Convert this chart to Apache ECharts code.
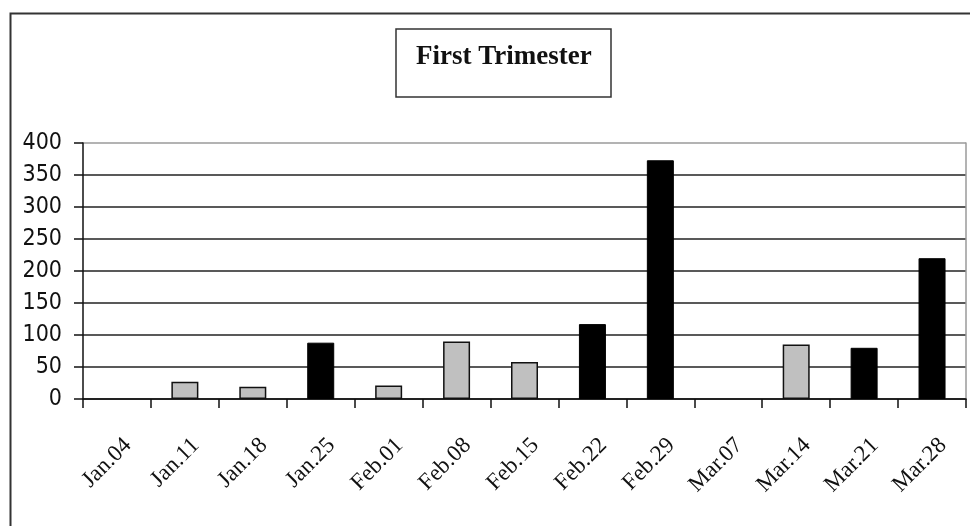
<!DOCTYPE html>
<html>
<head>
<meta charset="utf-8">
<script src="https://cdn.jsdelivr.net/npm/echarts@6/dist/echarts.min.js"></script>
<style>
  html, body { margin: 0; padding: 0; background: #fff; }
  #chart { width: 970px; height: 526px; }
</style>
</head>
<body>
<div id="chart"></div>
<script>
const weeks = ['Jan.04', 'Jan.11', 'Jan.18', 'Jan.25', 'Feb.01', 'Feb.08', 'Feb.15',
  'Feb.22', 'Feb.29', 'Mar.07', 'Mar.14', 'Mar.21', 'Mar.28']
// light bars and dark bars, '-' where a week has no bar of that kind
const greyValues = ['-', 27, 19, '-', 21, 90, 58, '-', '-', '-', 85, '-', '-']
const blackValues = ['-', '-', '-', 88, '-', '-', '-', 117, 373, '-', '-', 80, 220]
const yTicks = [0, 50, 100, 150, 200, 250, 300, 350, 400]

const chart = echarts.init(document.getElementById('chart'))

const option = {
  animation: false,
  backgroundColor: '#fff',
  title: {
    text: 'First Trimester',
    left: 396,
    top: 29,
    padding: [15, 20, 26, 20],
    borderColor: '#333',
    borderWidth: 1.5,
    textStyle: {
      fontFamily: '"Liberation Serif", "Times New Roman", serif',
      fontSize: 27,
      fontWeight: 'bold',
      color: '#111'
    }
  },
  graphic: [
    {
      type: 'rect',
      left: 8,
      top: 11,
      shape: { width: 1000, height: 600 },
      style: { fill: 'none', stroke: '#333', lineWidth: 2 },
      silent: true
    }
  ],
  grid: {
    left: 83,
    right: 4,
    top: 143,
    bottom: 127
  },
  xAxis: {
    type: 'category',
    data: weeks,
    axisLine: { lineStyle: { color: '#111', width: 1.5 } },
    axisTick: { show: true, length: 9, lineStyle: { color: '#111', width: 1.5 } },
    axisLabel: {
      rotate: 45,
      margin: 32,
      interval: 0,
      align: 'right',
      verticalAlign: 'top',
      padding: [4, 0, 0, 0],
      color: '#111',
      fontFamily: '"Liberation Serif", "Times New Roman", serif',
      fontSize: 23
    }
  },
  yAxis: [
    {
      type: 'value',
      min: yTicks[0],
      max: yTicks[yTicks.length - 1],
      interval: 50,
      axisLine: { show: true, lineStyle: { color: '#111', width: 1.5 } },
      axisTick: { show: true, length: 9, lineStyle: { color: '#111', width: 1.5 } },
      axisLabel: {
        margin: 21,
        color: '#111',
        fontFamily: '"Liberation Sans Narrow", "DejaVu Sans Condensed", sans-serif',
        fontSize: 23
      },
      splitLine: {
        lineStyle: {
          color: ['#222', '#222', '#222', '#222', '#222', '#222', '#222', '#222', '#9a9a9a'],
          width: 1.5
        }
      }
    },
    {
      type: 'value',
      position: 'right',
      min: yTicks[0],
      max: yTicks[yTicks.length - 1],
      interval: 50,
      axisLine: { show: true, lineStyle: { color: '#9a9a9a', width: 1.5 } },
      axisTick: { show: false },
      axisLabel: { show: false },
      splitLine: { show: false }
    }
  ],
  series: [
    {
      name: 'grey',
      type: 'bar',
      data: greyValues,
      barWidth: 27,
      barGap: '-100%',
      itemStyle: { color: '#c0c0c0', borderColor: '#111', borderWidth: 1.5 }
    },
    {
      name: 'black',
      type: 'bar',
      data: blackValues,
      barWidth: 27,
      itemStyle: { color: '#000', borderColor: '#000', borderWidth: 1 }
    }
  ]
}

chart.setOption(option)
</script>
</body>
</html>
